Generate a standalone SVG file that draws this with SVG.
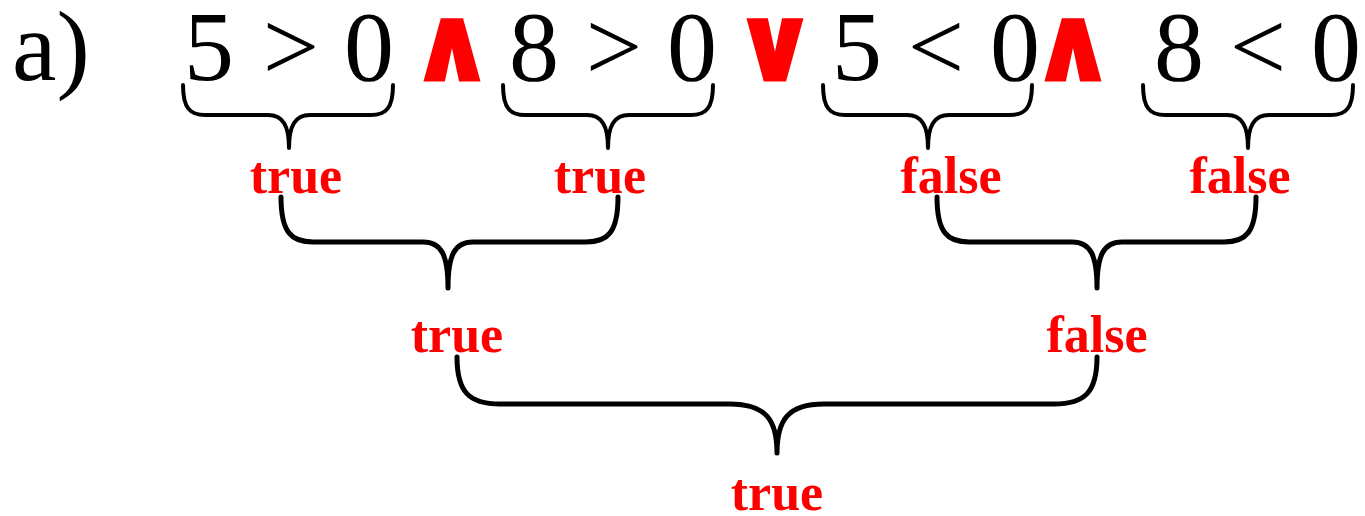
<svg xmlns="http://www.w3.org/2000/svg" width="1365" height="516" viewBox="0 0 1365 516">
<style>
.expr{font-family:"Liberation Serif",serif;font-weight:normal;font-size:100px;fill:#000;text-anchor:middle}
.op{font-family:"DejaVu Sans",sans-serif;font-weight:bold;font-size:104px;fill:#ff0000;stroke:#ff0000;stroke-width:3;text-anchor:middle}
.lbl{font-family:"Liberation Serif",serif;font-weight:bold;font-size:52px;fill:#ff0000;text-anchor:middle}
.br{fill:none;stroke:#000;stroke-linecap:round;stroke-linejoin:round}
</style>
<rect width="1365" height="516" fill="#fff"/>
<g id="title"><text class="expr" x="12" y="80" style="text-anchor:start">a)</text></g>
<g id="e1"><text class="expr" y="80"><tspan x="209">5</tspan><tspan x="291">&gt;</tspan><tspan x="369">0</tspan></text></g>
<g id="op1"><text class="op" x="452" y="80">∧</text></g>
<g id="e2"><text class="expr" y="80"><tspan x="534">8</tspan><tspan x="614">&gt;</tspan><tspan x="692">0</tspan></text></g>
<g id="op2"><text class="op" x="775" y="80">∨</text></g>
<g id="e3"><text class="expr" y="80"><tspan x="857">5</tspan><tspan x="936">&lt;</tspan><tspan x="1015">0</tspan></text></g>
<g id="op3"><text class="op" x="1073" y="80">∧</text></g>
<g id="e4"><text class="expr" y="80"><tspan x="1179">8</tspan><tspan x="1258">&lt;</tspan><tspan x="1336">0</tspan></text></g>
<g id="l1"><text class="lbl" x="296" y="193">true</text></g>
<g id="l2"><text class="lbl" x="600" y="193">true</text></g>
<g id="l3"><text class="lbl" x="951" y="193">false</text></g>
<g id="l4"><text class="lbl" x="1240" y="193">false</text></g>
<g id="l5"><text class="lbl" x="457" y="352">true</text></g>
<g id="l6"><text class="lbl" x="1097" y="352">false</text></g>
<g id="l7"><text class="lbl" x="777" y="510">true</text></g>
<g id="connectors">
<path class="br" stroke-width="4" d="M183,85 C183,108 190,115 205,115 L268,115 C283,115 289,126 289,148 C289,126 295,115 310,115 L371,115 C386,115 393,108 393,85"/>
<path class="br" stroke-width="4" d="M503,85 C503,108 510,115 525,115 L587,115 C602,115 608,126 608,148 C608,126 614,115 629,115 L691,115 C706,115 713,108 713,85"/>
<path class="br" stroke-width="4" d="M823,85 C823,108 830,115 845,115 L907,115 C922,115 928,126 928,148 C928,126 934,115 949,115 L1010,115 C1025,115 1032,108 1032,85"/>
<path class="br" stroke-width="4" d="M1143,85 C1143,108 1150,115 1165,115 L1227,115 C1242,115 1248,126 1248,148 C1248,126 1254,115 1269,115 L1331,115 C1346,115 1353,108 1353,85"/>
<path class="br" stroke-width="5" d="M281,197 C281,232 291,242 313,242 L423,242 C442,242 448,256 448,288 C448,256 454,242 473,242 L586,242 C608,242 618,232 618,197"/>
<path class="br" stroke-width="5" d="M937,197 C937,232 947,242 969,242 L1072,242 C1091,242 1097,256 1097,288 C1097,256 1103,242 1122,242 L1224,242 C1246,242 1256,232 1256,197"/>
<path class="br" stroke-width="5" d="M457,357 C457,392 469,404 500,404 L730,404 C766,404 777,420 777,453 C777,420 788,404 824,404 L1054,404 C1085,404 1097,392 1097,357"/>
</g>
</svg>
